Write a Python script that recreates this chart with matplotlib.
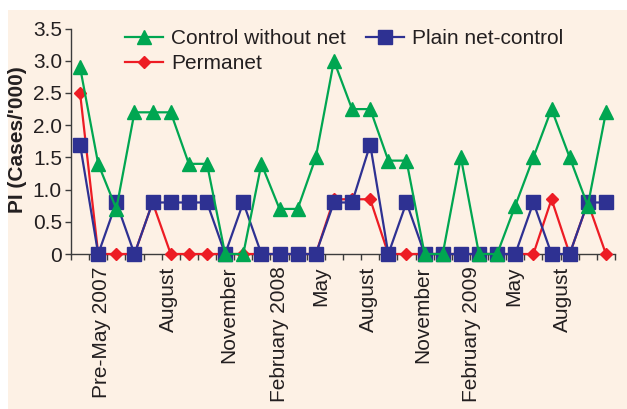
import matplotlib.pyplot as plt
from matplotlib.patches import Rectangle

# monthly PI values, index 0 = pre-May 2007
control_no_net = [2.9, 1.4, 0.7, 2.2, 2.2, 2.2, 1.4, 1.4, 0, 0,
                  1.4, 0.7, 0.7, 1.5, 3.0, 2.25, 2.25, 1.45, 1.45, 0,
                  0, 1.5, 0, 0, 0.75, 1.5, 2.25, 1.5, 0.75, 2.2]
permanet = [2.5, 0, 0, 0, 0.8, 0, 0, 0, 0, 0,
            0, 0, 0, 0, 0.85, 0.85, 0.85, 0, 0, 0,
            0, 0, 0, 0, 0, 0, 0.85, 0, 0.8, 0]
plain_net = [1.7, 0, 0.8, 0, 0.8, 0.8, 0.8, 0.8, 0, 0.8,
             0, 0, 0, 0, 0.8, 0.8, 1.7, 0, 0.8, 0,
             0, 0, 0, 0, 0, 0.8, 0, 0, 0.8, 0.8]

month_labels = ["Pre-May 2007", "August", "November", "February 2008", "May",
                "August", "November", "February 2009", "May", "August"]
label_pos = [1.16, 4.86, 8.2, 11.0, 13.3, 15.9, 18.9, 21.6, 23.9, 26.6]

y_ticks = [0, 0.5, 1.0, 1.5, 2.0, 2.5, 3.0, 3.5]
y_tick_labels = ["0", "0.5", "1.0", "1.5", "2.0", "2.5", "3.0", "3.5"]

plt.rcParams["font.family"] = ["Liberation Sans", "DejaVu Sans"]

bg = "#fdf1e5"
green = "#00a651"
red = "#ed1c24"
blue = "#2e3192"
axis_col = "#3c3c3c"
text_col = "#231f20"

fig = plt.figure(figsize=(6.27, 4.09), dpi=100)
fig.patch.set_facecolor("white")
fig.patches.append(Rectangle((8 / 627, 0), 1, 1 - 10 / 409,
                             transform=fig.transFigure, facecolor=bg,
                             edgecolor="none", zorder=-10))

ax = fig.add_axes([71 / 627, 1 - 254 / 409, 544 / 627, 225.4 / 409])
ax.set_facecolor("none")

x = list(range(len(control_no_net)))
ax.plot(x, permanet, color=red, lw=1.6, marker="D", ms=6.5,
        clip_on=False, zorder=3, label="Permanet")
ax.plot(x, plain_net, color=blue, lw=1.6, marker="s", ms=9.5,
        clip_on=False, zorder=4, label="Plain net-control")
ax.plot(x, control_no_net, color=green, lw=1.6, marker="^", ms=10,
        clip_on=False, zorder=5, label="Control without net")

ax.set_xlim(-0.5, len(x) - 0.5)
ax.set_ylim(0, 3.5)

for s in ["top", "right"]:
    ax.spines[s].set_visible(False)
for s in ["left", "bottom"]:
    ax.spines[s].set_color(axis_col)
    ax.spines[s].set_linewidth(1.0)

ax.set_yticks(y_ticks)
ax.set_yticklabels(y_tick_labels)
ax.tick_params(axis="y", direction="out", length=4.5, width=1.0,
               color=axis_col, labelsize=15, labelcolor=text_col, pad=2)

# tick marks between months, labels separately
ax.set_xticks([i - 0.5 for i in range(len(x) + 1)])
ax.set_xticklabels([])
ax.set_xticks(label_pos, minor=True)
ax.set_xticklabels(month_labels, minor=True, rotation=90, va="top", ha="center")
ax.tick_params(axis="x", which="major", direction="out", length=4.5,
               width=1.0, color=axis_col)
ax.tick_params(axis="x", which="minor", length=0, labelsize=15,
               labelcolor=text_col, pad=9)

fig.text(17.5 / 627, 1 - 140 / 409, "PI (Cases/'000)", rotation=90,
         ha="center", va="center", fontsize=15, fontweight="bold",
         color=text_col)

handles, labels = ax.get_legend_handles_labels()
order = [2, 0, 1]
ax.legend([handles[i] for i in order], [labels[i] for i in order],
          ncol=2, frameon=False, loc="upper left",
          bbox_to_anchor=(125 / 627, 1 - 29 / 409),
          bbox_transform=fig.transFigure, borderpad=0, borderaxespad=0,
          fontsize=15, handlelength=1.8, handletextpad=0.4,
          columnspacing=1.0, labelspacing=0.3, labelcolor=text_col)

fig.savefig("out.png", dpi=100, facecolor="white")
